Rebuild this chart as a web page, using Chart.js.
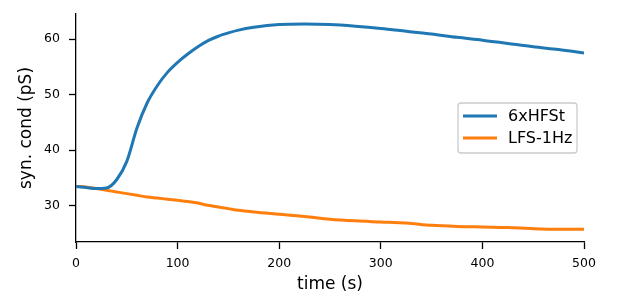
<!DOCTYPE html>
<html>
<head>
<meta charset="utf-8">
<script src="https://cdn.jsdelivr.net/npm/chart.js@4"></script>
<style>
  html, body { margin: 0; padding: 0; background: #fff; }
  #wrap { width: 617px; height: 303px; }
</style>
</head>
<body>
<div id="wrap"><canvas id="condChart" width="617" height="303"></canvas></div>
<script>
// time points (s)
const time = [0, 10, 20, 30, 40, 50, 60, 70, 80, 90, 100, 110, 120, 130, 140, 150, 160, 175,
              200, 225, 250, 275, 300, 325, 350, 375, 400, 425, 450, 475, 500];
// synaptic conductance (pS)
const hfs = [33.5, 33.3, 33.1, 33.2, 34.7, 38.0, 44.0, 48.5, 51.6, 54.0, 55.8, 57.3, 58.6, 59.7,
             60.5, 61.1, 61.6, 62.1, 62.6, 62.7, 62.6, 62.3, 61.9, 61.4, 60.9, 60.3, 59.8, 59.2,
             58.6, 58.1, 57.5];
const lfs = [33.5, 33.4, 33.1, 32.8, 32.5, 32.2, 31.9, 31.6, 31.4, 31.2, 31.0, 30.8, 30.5, 30.1,
             29.8, 29.5, 29.2, 28.9, 28.5, 28.1, 27.6, 27.3, 27.1, 26.9, 26.5, 26.3, 26.2, 26.1,
             25.9, 25.8, 25.8];
const seriesNames = ['6xHFSt', 'LFS-1Hz'];
const xTicks = [0, 100, 200, 300, 400, 500];
const yTicks = [30, 40, 50, 60];

const FONT = "'DejaVu Sans', sans-serif";
const toPoints = (ys) => ys.map((y, i) => ({ x: time[i], y: y }));

// legend box drawn inside the plot, like matplotlib
const insideLegend = {
  id: 'insideLegend',
  afterDraw(chart) {
    const ctx = chart.ctx;
    const x0 = 458, y0 = 103, w = 119, h = 50;
    ctx.save();
    ctx.beginPath();
    ctx.roundRect(x0, y0, w, h, 3);
    ctx.fillStyle = 'rgba(255,255,255,0.8)';
    ctx.fill();
    ctx.strokeStyle = '#cccccc';
    ctx.lineWidth = 1.3;
    ctx.stroke();
    ctx.font = '16px ' + FONT;
    ctx.textBaseline = 'middle';
    chart.data.datasets.forEach((ds, i) => {
      const y = 116 + i * 22;
      ctx.beginPath();
      ctx.moveTo(463, y);
      ctx.lineTo(497, y);
      ctx.strokeStyle = ds.borderColor;
      ctx.lineWidth = 3;
      ctx.stroke();
      ctx.fillStyle = '#000';
      ctx.fillText(ds.label, 508, y + 1);
    });
    ctx.restore();
  }
};

const ctx = document.getElementById('condChart').getContext('2d');
const condChart = new Chart(ctx, {
  type: 'line',
  data: {
    datasets: [
      { label: seriesNames[0], data: toPoints(hfs), borderColor: '#1f77b4', borderWidth: 3,
        pointRadius: 0, cubicInterpolationMode: 'monotone', fill: false },
      { label: seriesNames[1], data: toPoints(lfs), borderColor: '#ff7f0e', borderWidth: 3,
        pointRadius: 0, cubicInterpolationMode: 'monotone', fill: false }
    ]
  },
  options: {
    responsive: false,
    animation: false,
    layout: { padding: { left: 0, right: 33, top: 14, bottom: 0 } },
    plugins: { legend: { display: false }, tooltip: { enabled: false } },
    scales: {
      x: {
        type: 'linear',
        min: 0, max: 500,
        afterFit: (s) => { s.height = 61; s.paddingLeft = 0; s.paddingRight = 0; },
        afterBuildTicks: (s) => { s.ticks = xTicks.map(v => ({ value: v })); },
        ticks: { color: '#000', padding: 7, font: { family: FONT, size: 12.5 }, maxRotation: 0 },
        grid: { drawOnChartArea: false, tickLength: 7, tickWidth: 1.3, tickColor: '#000' },
        border: { color: '#000', width: 1.3 },
        title: { display: true, text: 'time (s)', color: '#000', padding: { top: 0, bottom: 8 },
                 font: { family: FONT, size: 17 } }
      },
      y: {
        min: 23.5, max: 64.5,
        afterFit: (s) => { s.width = 76; s.paddingTop = 0; s.paddingBottom = 0; },
        afterBuildTicks: (s) => { s.ticks = yTicks.map(v => ({ value: v })); },
        ticks: { color: '#000', padding: 9, font: { family: FONT, size: 12.5 } },
        grid: { drawOnChartArea: false, tickLength: 7, tickWidth: 1.3, tickColor: '#000' },
        border: { color: '#000', width: 1.3 },
        title: { display: true, text: 'syn. cond (pS)', color: '#000', padding: { top: 16, bottom: 0 },
                 font: { family: FONT, size: 17 } }
      }
    }
  },
  plugins: [insideLegend]
});
</script>
</body>
</html>
